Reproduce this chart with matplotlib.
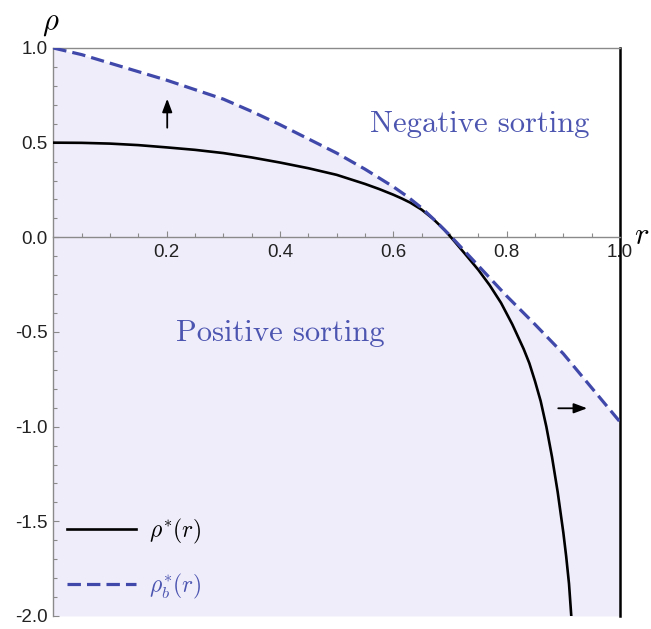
import numpy as np
import matplotlib
matplotlib.use("Agg")
import matplotlib.pyplot as plt

plt.rcParams['mathtext.fontset'] = 'cm'
plt.rcParams['axes.unicode_minus'] = False
plt.rcParams['font.family'] = ['Liberation Sans', 'DejaVu Sans']

# ── Curves ───────────────────────────────────────────────────────────────────

# dashed boundary rho_b*(r)
r_b = [0.0, 0.05, 0.1, 0.15, 0.2, 0.25, 0.3, 0.35, 0.4, 0.45, 0.5, 0.55, 0.6,
       0.625, 0.65, 0.675, 0.7, 0.725, 0.75, 0.8, 0.85, 0.9, 0.95, 1.0]
rho_b = [1.0, 0.965, 0.92, 0.875, 0.83, 0.78, 0.73, 0.665, 0.595, 0.52, 0.445,
         0.36, 0.267, 0.215, 0.155, 0.085, 0.01, -0.07, -0.15, -0.31, -0.46,
         -0.615, -0.795, -0.975]

# solid curve rho*(r)
r_s = [0.0, 0.05, 0.1, 0.15, 0.2, 0.25, 0.3, 0.35, 0.4, 0.45, 0.5, 0.55,
       0.575, 0.6, 0.615, 0.63, 0.65, 0.67, 0.69, 0.70, 0.71, 0.73, 0.75,
       0.77, 0.79, 0.81, 0.83, 0.84, 0.85, 0.86, 0.87, 0.88, 0.89, 0.9,
       0.905, 0.91, 0.914]
rho_s = [0.5, 0.499, 0.495, 0.487, 0.475, 0.462, 0.445, 0.422, 0.395, 0.365,
         0.33, 0.282, 0.255, 0.225, 0.205, 0.183, 0.146, 0.098, 0.04, 0.006,
         -0.029, -0.10, -0.172, -0.253, -0.346, -0.46, -0.59, -0.665, -0.76,
         -0.865, -1.0, -1.16, -1.345, -1.56, -1.685, -1.83, -2.0]

x_ticks = [0.2, 0.4, 0.6, 0.8, 1.0]
y_ticks = [-2.0, -1.5, -1.0, -0.5, 0.0, 0.5, 1.0]

blue = '#4049aa'
text_blue = '#4c55b0'
fill_col = '#f0edfb'
gray = '#8a8a8a'

# ── Plot ─────────────────────────────────────────────────────────────────────

fig = plt.figure(figsize=(6.51, 6.29), dpi=100)
ax = fig.add_axes([0.0819, 0.0207, 0.8705, 0.903])

ax.fill_between(r_b, -2, rho_b, color=fill_col, lw=0, zorder=0)
ax.plot(r_s, rho_s, color='black', lw=1.9, label=r'$\rho^{*}(r)$', zorder=3)
ax.plot(r_b, rho_b, color=blue, lw=2.3, ls=(0, (4.2, 1.9)),
        label=r'$\rho^{*}_{b}(r)$', zorder=4)

ax.set_xlim(0, 1)
ax.set_ylim(-2, 1)

ax.spines['bottom'].set_position(('data', 0))
for s in ['bottom', 'left', 'top']:
    ax.spines[s].set_color(gray)
    ax.spines[s].set_linewidth(1.0)
ax.spines['right'].set_color('black')
ax.spines['right'].set_linewidth(1.8)

ax.set_xticks(x_ticks)
ax.set_xticklabels([f'{v:.1f}' for v in x_ticks])
ax.set_yticks(y_ticks)
ax.set_yticklabels([f'{v:.1f}' for v in y_ticks])
ax.set_xticks(np.arange(0.05, 1.0, 0.05), minor=True)
ax.set_yticks(np.arange(-2.0, 1.0001, 0.1), minor=True)
ax.tick_params(which='both', direction='in', color=gray, labelcolor='#222222',
               labelsize=13.5, width=0.8)
ax.tick_params(which='major', length=4.5)
ax.tick_params(which='minor', length=2.8)
ax.tick_params(axis='x', pad=5)
ax.tick_params(axis='y', pad=4)

# axis labels
ax.text(-0.005, 1.133, r'$\rho$', fontsize=22, ha='center', va='center',
        clip_on=False)
ax.text(1.025, -0.035, r'$r$', fontsize=22, ha='left', va='baseline',
        clip_on=False)

# region labels
ax.text(0.753, 0.555, 'Negative sorting', family='cmr10', fontsize=22,
        color=text_blue, ha='center', va='baseline')
ax.text(0.40, -0.547, 'Positive sorting', family='cmr10', fontsize=22,
        color=text_blue, ha='center', va='baseline')

# direction arrows
arrow = dict(arrowstyle='-|>,head_length=0.8,head_width=0.3', color='black',
             lw=1.3, mutation_scale=10, shrinkA=0, shrinkB=0)
ax.annotate('', xy=(0.201, 0.732), xytext=(0.201, 0.579), arrowprops=arrow)
ax.annotate('', xy=(0.942, -0.903), xytext=(0.891, -0.903), arrowprops=arrow)

ax.legend(loc='lower left', bbox_to_anchor=(0.0245, 0.027), frameon=False,
          fontsize=17, handlelength=2.9, handletextpad=0.55, labelspacing=1.09,
          borderpad=0, borderaxespad=0, labelcolor=['black', text_blue])

fig.savefig("out.png", dpi=100)
